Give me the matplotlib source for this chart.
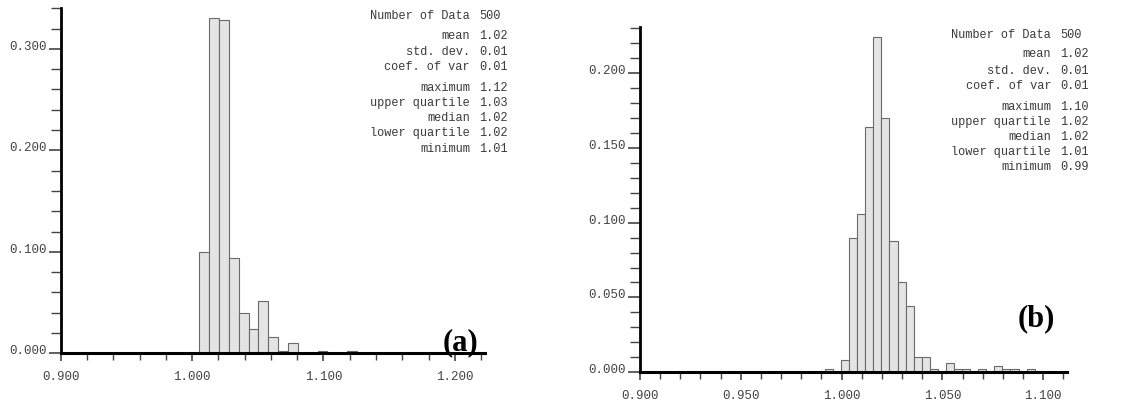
import matplotlib
matplotlib.use("Agg")
import matplotlib.pyplot as plt
import numpy as np

# panel (a): bin start, width and relative frequencies
a_start, a_width = 1.0055, 0.0075
a_freq = [0.100, 0.330, 0.328, 0.094, 0.040, 0.024, 0.052, 0.016,
          0.002, 0.010, 0.000, 0.000, 0.002, 0.000, 0.000, 0.002]
a_stats = [("Number of Data", "500"), ("mean", "1.02"), ("std. dev.", "0.01"),
           ("coef. of var", "0.01"), ("maximum", "1.12"), ("upper quartile", "1.03"),
           ("median", "1.02"), ("lower quartile", "1.02"), ("minimum", "1.01")]
a_xticks = [0.900, 1.000, 1.100, 1.200]
a_yticks = [0.000, 0.100, 0.200, 0.300]

# panel (b)
b_start, b_width = 0.9917, 0.004
b_freq = [0.002, 0.000, 0.008, 0.090, 0.106, 0.164, 0.224, 0.170, 0.088,
          0.060, 0.044, 0.010, 0.010, 0.002, 0.000, 0.006, 0.002, 0.002,
          0.000, 0.002, 0.000, 0.004, 0.002, 0.002, 0.000, 0.002]
b_stats = [("Number of Data", "500"), ("mean", "1.02"), ("std. dev.", "0.01"),
           ("coef. of var", "0.01"), ("maximum", "1.10"), ("upper quartile", "1.02"),
           ("median", "1.02"), ("lower quartile", "1.01"), ("minimum", "0.99")]
b_xticks = [0.900, 0.950, 1.000, 1.050, 1.100]
b_yticks = [0.000, 0.050, 0.100, 0.150, 0.200]

W, H = 1140, 402
fig = plt.figure(figsize=(W / 100, H / 100), dpi=100)
mono = "Liberation Mono"
txt_col = "#3a3a3a"


def px_axes(l, r, b, t):
    return fig.add_axes([l / W, 1 - b / H, (r - l) / W, (b - t) / H])


def panel(ax, start, width, freq, xlim, ylim, xticks, yticks, xminor, yminor):
    edges = start + width * np.arange(len(freq))
    ax.bar(edges, freq, width=width, align="edge", color="#e4e4e4",
           edgecolor="#6a6a6a", linewidth=0.8, zorder=2)
    ax.plot([xlim[0], xlim[1]], [0, 0], color="black", lw=2.2, zorder=3,
            clip_on=False)
    ax.set_xlim(*xlim)
    ax.set_ylim(*ylim)
    for s in ("top", "right"):
        ax.spines[s].set_visible(False)
    ax.spines["left"].set_linewidth(2)
    ax.spines["bottom"].set_linewidth(2)
    ax.set_xticks(xticks)
    ax.set_xticklabels([f"{v:.3f}" for v in xticks])
    ax.set_yticks(yticks)
    ax.set_yticklabels([f"{v:.3f}" for v in yticks])
    ax.set_xticks(np.arange(xlim[0], xlim[1] + 1e-9, xminor), minor=True)
    ax.set_yticks(np.arange(0, ylim[1] + 1e-9, yminor), minor=True)
    ax.tick_params(axis="x", which="major", length=6, width=1.2, color="#444",
                   labelsize=9, labelcolor="#444", pad=6)
    ax.tick_params(axis="x", which="minor", length=5, width=1, color="#444")
    ax.tick_params(axis="y", which="major", length=9, width=1.2, color="#444",
                   labelsize=9, labelcolor="#444", pad=1)
    ax.tick_params(axis="y", which="minor", length=7, width=1, color="#444")
    for lbl in ax.get_xticklabels() + ax.get_yticklabels():
        lbl.set_family(mono)
    for lbl in ax.get_yticklabels():
        lbl.set_va("baseline")


ax1 = px_axes(60.7, 485, 354.3, 9.3)
panel(ax1, a_start, a_width, a_freq, (0.9, 1.223), (0, 0.340),
      a_xticks, a_yticks, 0.02, 0.02)
ax2 = px_axes(640, 1066.7, 373.3, 28.3)
panel(ax2, b_start, b_width, b_freq, (0.9, 1.1116), (0, 0.2305),
      b_xticks, b_yticks, 0.01, 0.01)


def stats(items, xl, xv, rows):
    for (lab, val), y in zip(items, rows):
        fig.text(xl / W, 1 - y / H, lab, ha="right", va="center",
                 family=mono, fontsize=8.6, color=txt_col)
        fig.text(xv / W, 1 - y / H, val, ha="left", va="center",
                 family=mono, fontsize=8.6, color=txt_col)


stats(a_stats, 470, 479, [16, 36, 51.7, 67, 88.3, 103.3, 118.3, 133.3, 149])
stats(b_stats, 1051, 1060, [34.7, 54.3, 70.7, 86, 107, 122.3, 136.7, 152, 167.3])

fig.text(460 / W, 1 - 343 / H, "(a)", ha="center", va="center",
         family="Liberation Serif", fontweight="bold", fontsize=22)
fig.text(1036 / W, 1 - 319 / H, "(b)", ha="center", va="center",
         family="Liberation Serif", fontweight="bold", fontsize=22)

fig.savefig("out.png", dpi=100)
